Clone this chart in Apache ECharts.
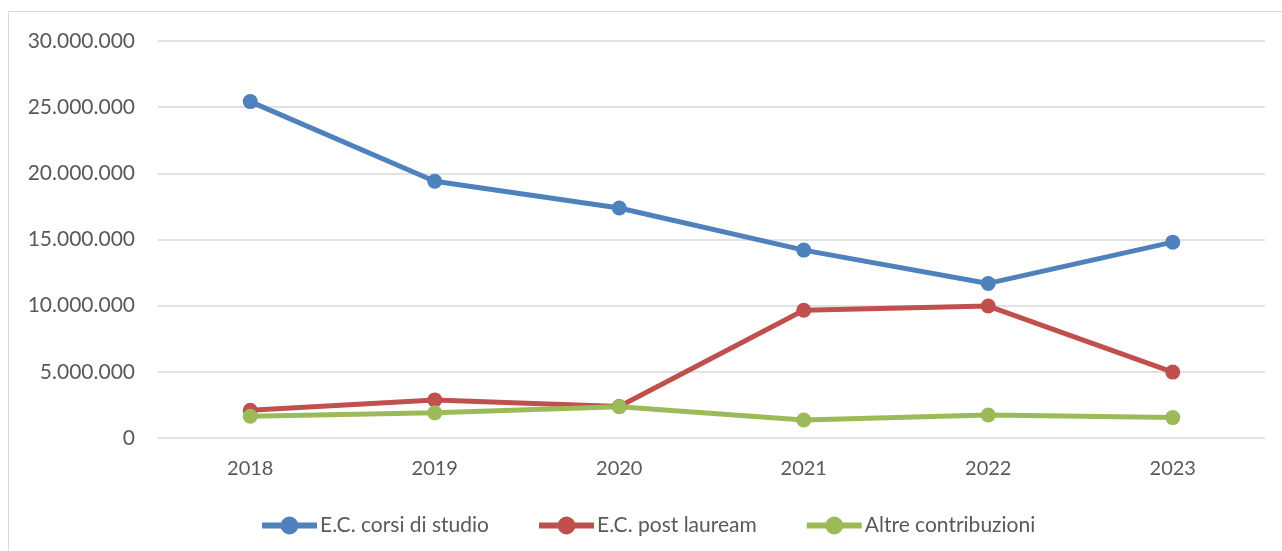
<!DOCTYPE html>
<html>
<head>
<meta charset="utf-8">
<script src="https://cdn.jsdelivr.net/npm/echarts@6/dist/echarts.min.js"></script>
<style>
    html, body { margin: 0; padding: 0; background: #fff; overflow: hidden; }
    #chart { position: absolute; left: 0; top: 0; width: 1282px; height: 551px; }
    #frame {
        position: absolute; left: 8px; top: 11px; width: 1300px; height: 600px;
        border: 1.5px solid #d9d9d9; pointer-events: none;
    }
</style>
</head>
<body>
<div id="chart"></div>
<div id="frame"></div>
<script>
const years = ['2018', '2019', '2020', '2021', '2022', '2023'];
const corsiStudio = [25420000, 19400000, 17380000, 14200000, 11680000, 14800000];
const postLauream = [2100000, 2880000, 2380000, 9650000, 9970000, 4980000];
const altreContributi = [1640000, 1900000, 2360000, 1360000, 1740000, 1540000];

const fmt = v => String(v).replace(/\B(?=(\d{3})+(?!\d))/g, '.');

const font = 'Lato, "Open Sans", sans-serif';

// legend icon: thick line with a dot in the middle
const legendIcon = 'path://M0,6 L55,6 L55,12 L0,12 Z M18.5,9 A9,9 0 1,1 36.5,9 A9,9 0 1,1 18.5,9 Z';

function lineSeries(name, data, color) {
    return {
        name: name,
        type: 'line',
        data: data,
        symbol: 'circle',
        symbolSize: 15,
        lineStyle: { width: 5, color: color },
        itemStyle: { color: color },
        emphasis: { disabled: true }
    };
}

const chart = echarts.init(document.getElementById('chart'));
chart.setOption({
    animation: false,
    textStyle: { fontFamily: font },
    grid: { left: 158, right: 17, top: 41, bottom: 113 },
    legend: {
        left: 257,
        top: 510,
        itemWidth: 55,
        itemHeight: 18,
        itemGap: 50,
        icon: legendIcon,
        textStyle: { fontSize: 21, color: '#595959', fontFamily: font, padding: [0, 0, 0, -2] },
        data: ['E.C. corsi di studio', 'E.C. post lauream', 'Altre contribuzioni']
    },
    xAxis: {
        type: 'category',
        data: years,
        boundaryGap: true,
        axisLine: { show: false },
        axisTick: { show: false },
        axisLabel: { fontSize: 20, color: '#595959', margin: 21 }
    },
    yAxis: {
        type: 'value',
        min: 0,
        max: 30000000,
        interval: 5000000,
        axisLine: { show: false },
        axisTick: { show: false },
        axisLabel: { fontSize: 21, color: '#595959', margin: 23, formatter: fmt },
        splitLine: { lineStyle: { color: '#d9d9d9', width: 1.5 } }
    },
    series: [
        lineSeries('E.C. corsi di studio', corsiStudio, '#4f81bd'),
        lineSeries('E.C. post lauream', postLauream, '#c0504d'),
        lineSeries('Altre contribuzioni', altreContributi, '#9bbb59')
    ]
});
</script>
</body>
</html>
